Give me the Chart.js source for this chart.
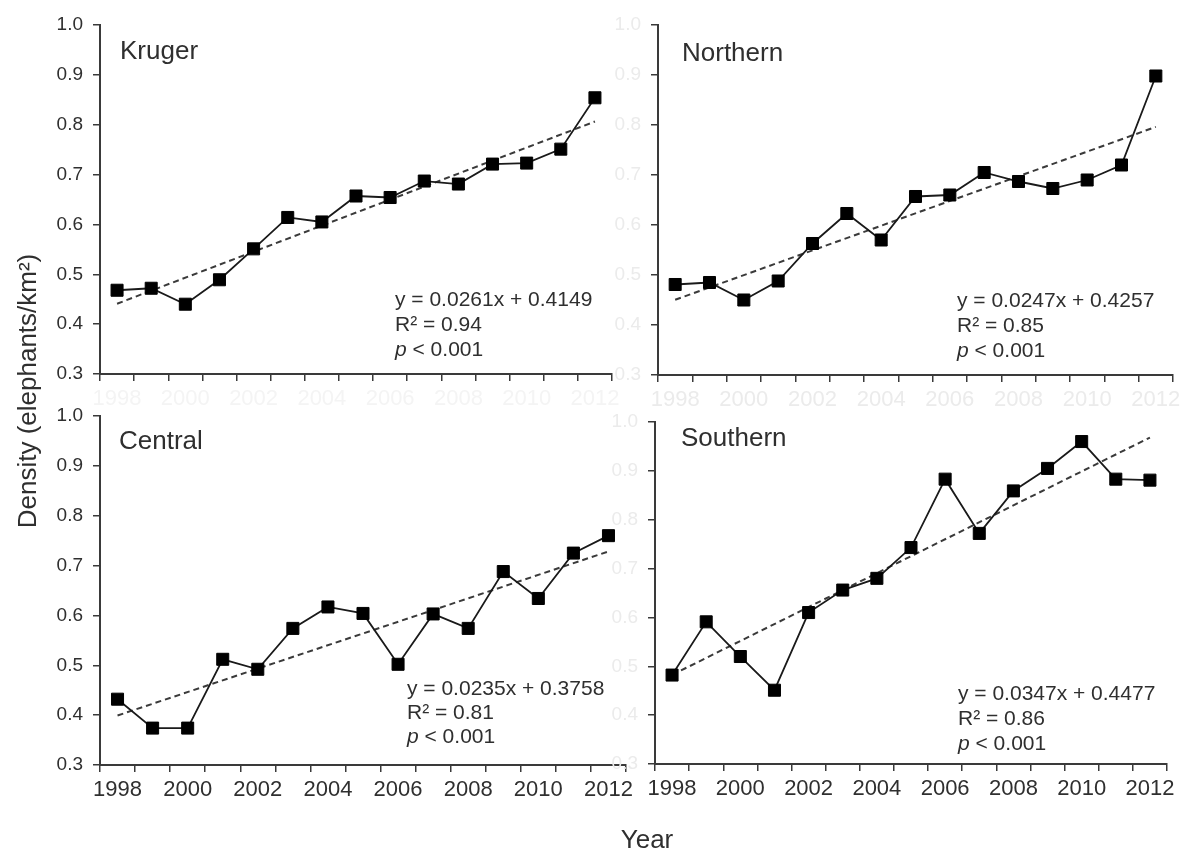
<!DOCTYPE html>
<html>
<head>
<meta charset="utf-8">
<script src="https://cdn.jsdelivr.net/npm/chart.js@4/dist/chart.umd.min.js"></script>
<style>
  html, body { margin: 0; padding: 0; background: #fff; }
  #wrap { position: relative; width: 1181px; height: 855px; overflow: hidden; background: #fff; }
  #wrap canvas { position: absolute; left: 0; top: 0; }
</style>
</head>
<body>
<div id="wrap">
  <canvas id="p0" width="1210" height="855"></canvas>
  <canvas id="p1" width="1210" height="855"></canvas>
  <canvas id="p2" width="1210" height="855"></canvas>
  <canvas id="p3" width="1210" height="855"></canvas>
</div>
<script>
// Elephant density (elephants/km²) per survey year
const years = [1998, 1999, 2000, 2001, 2002, 2003, 2004, 2005, 2006, 2007, 2008, 2009, 2010, 2011, 2012];
const kruger   = [0.468, 0.472, 0.440, 0.489, 0.551, 0.614, 0.605, 0.657, 0.654, 0.687, 0.681, 0.721, 0.723, 0.751, 0.854];
const northern = [0.481, 0.485, 0.450, 0.488, 0.563, 0.623, 0.570, 0.657, 0.660, 0.705, 0.687, 0.673, 0.690, 0.720, 0.898];
const central  = [0.432, 0.374, 0.374, 0.512, 0.492, 0.574, 0.617, 0.604, 0.502, 0.603, 0.574, 0.688, 0.634, 0.725, 0.760];
const southern = [0.482, 0.591, 0.520, 0.451, 0.610, 0.656, 0.680, 0.743, 0.883, 0.772, 0.859, 0.905, 0.960, 0.883, 0.881];

// Regions and their fitted linear trends (x = 1 for 1998 ... 15 for 2012)
const regionNames = ['Kruger', 'Northern', 'Central', 'Southern'];
const slopes      = [0.0261, 0.0247, 0.0235, 0.0347];
const intercepts  = [0.4149, 0.4257, 0.3758, 0.4477];
const rSquared    = ['0.94', '0.85', '0.81', '0.86'];
const pValueText  = '< 0.001';
const yRange      = [0.3, 1.0];
const yStep       = 0.1;

// Canvas is a little wider than the visible figure so edge labels never squeeze a plot area
const W = 1210, H = 855;
const Y_AXIS_W = 70, X_AXIS_H = 50;
const FONT = '"Liberation Sans", Arial, Helvetica, sans-serif';
const INK = '#2f2f2f';
const FAINT = '#ebebeb';

// Plot-area rectangles [left, right, top, bottom] and text anchors for the four panels
const panels = [
  { series: kruger,   area: [100, 612, 25, 374],  title: [120, 59],  note: [395, 306], gap: 25, xTick: '#f4f4f4', yTick: INK },
  { series: northern, area: [658, 1173, 25, 375], title: [682, 61],  note: [957, 307], gap: 25, xTick: FAINT,     yTick: FAINT },
  { series: central,  area: [100, 626, 416, 765], title: [119, 449], note: [407, 695], gap: 24, xTick: INK,       yTick: INK },
  { series: southern, area: [655, 1167, 422, 764], title: [681, 446], note: [958, 700], gap: 25, xTick: INK,      yTick: FAINT }
];

// Panel title and regression statistics
const panelText = {
  id: 'panelText',
  afterDraw(chart, args, o) {
    const ctx = chart.ctx;
    ctx.save();
    ctx.fillStyle = INK;
    ctx.textAlign = 'left';
    ctx.textBaseline = 'alphabetic';
    ctx.font = '26px ' + FONT;
    ctx.fillText(o.title, o.titleX, o.titleY);
    ctx.font = '21px ' + FONT;
    ctx.fillText(o.equation, o.x, o.y);
    ctx.fillText('R\u00B2 = ' + o.r2, o.x, o.y + o.gap);
    ctx.font = 'italic 21px ' + FONT;
    ctx.fillText('p', o.x, o.y + 2 * o.gap);
    const pw = ctx.measureText('p').width;
    ctx.font = '21px ' + FONT;
    ctx.fillText(' ' + pValueText, o.x + pw, o.y + 2 * o.gap);
    ctx.restore();
  }
};

// Shared axis titles for the whole figure
const sharedTitles = {
  id: 'sharedTitles',
  afterDraw(chart) {
    const ctx = chart.ctx;
    ctx.save();
    ctx.fillStyle = INK;
    ctx.font = '26px ' + FONT;
    ctx.textAlign = 'center';
    ctx.textBaseline = 'alphabetic';
    ctx.translate(36, 391);
    ctx.rotate(-Math.PI / 2);
    ctx.fillText('Density (elephants/km\u00B2)', 0, 0);
    ctx.restore();
    ctx.save();
    ctx.fillStyle = INK;
    ctx.font = '26px ' + FONT;
    ctx.textAlign = 'center';
    ctx.textBaseline = 'alphabetic';
    ctx.fillText('Year', 647, 848);
    ctx.restore();
  }
};

panels.forEach((p, i) => {
  const [left, right, top, bottom] = p.area;
  const trend = years.map(() => null);
  trend[0] = slopes[i] * 1 + intercepts[i];
  trend[years.length - 1] = slopes[i] * years.length + intercepts[i];

  const plugins = [panelText];
  if (i === 0) plugins.push(sharedTitles);

  new Chart(document.getElementById('p' + i), {
    type: 'line',
    data: {
      labels: years,
      datasets: [
        {
          data: p.series,
          borderColor: '#1a1a1a',
          borderWidth: 1.8,
          pointStyle: 'rect',
          pointRadius: 8.5,
          pointBackgroundColor: '#000',
          pointBorderColor: '#000',
          pointBorderWidth: 1,
          tension: 0,
          order: 1
        },
        {
          data: trend,
          spanGaps: true,
          borderColor: '#3a3a3a',
          borderWidth: 2,
          borderDash: [6, 4],
          pointRadius: 0,
          tension: 0,
          order: 2
        }
      ]
    },
    options: {
      responsive: false,
      devicePixelRatio: 1,
      animation: false,
      events: [],
      layout: {
        padding: { left: left - Y_AXIS_W, right: W - right, top: top, bottom: H - bottom - X_AXIS_H }
      },
      plugins: {
        legend: { display: false },
        tooltip: { enabled: false },
        panelText: {
          title: regionNames[i], titleX: p.title[0], titleY: p.title[1],
          equation: 'y = ' + slopes[i].toFixed(4) + 'x + ' + intercepts[i].toFixed(4),
          r2: rSquared[i], x: p.note[0], y: p.note[1], gap: p.gap
        }
      },
      scales: {
        x: {
          type: 'category',
          offset: true,
          afterFit: s => { s.height = X_AXIS_H; },
          border: { display: true, color: '#3a3a3a', width: 2 },
          grid: { offset: true, drawOnChartArea: false, drawTicks: true, tickLength: 7, color: '#3a3a3a', lineWidth: 1.5 },
          ticks: {
            autoSkip: false, maxRotation: 0, padding: 5, color: p.xTick,
            font: { family: FONT, size: 22 },
            callback: (v, idx) => (years[idx] % 2 === 0 ? String(years[idx]) : '')
          }
        },
        y: {
          type: 'linear',
          min: yRange[0], max: yRange[1],
          afterFit: s => { s.width = Y_AXIS_W; },
          border: { display: true, color: '#3a3a3a', width: 2 },
          grid: { drawOnChartArea: false, drawTicks: true, tickLength: 7, color: '#3a3a3a', lineWidth: 1.5 },
          ticks: {
            stepSize: yStep, padding: 10, color: p.yTick,
            font: { family: FONT, size: 19 },
            callback: v => Number(v).toFixed(1)
          }
        }
      }
    },
    plugins: plugins
  });
});
</script>
</body>
</html>
